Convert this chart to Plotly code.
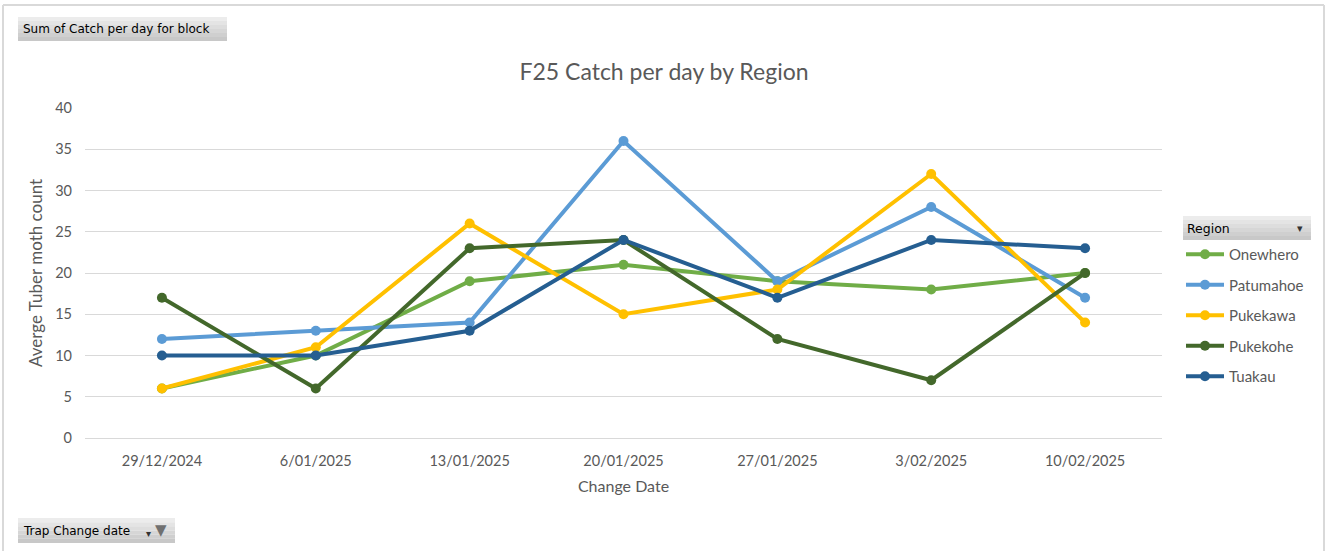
import plotly.graph_objects as go

dates = ["29/12/2024", "6/01/2025", "13/01/2025", "20/01/2025", "27/01/2025", "3/02/2025", "10/02/2025"]
onewhero = [6, 10, 19, 21, 19, 18, 20]
patumahoe = [12, 13, 14, 36, 19, 28, 17]
pukekawa = [6, 11, 26, 15, 18, 32, 14]
pukekohe = [17, 6, 23, 24, 12, 7, 20]
tuakau = [10, 10, 13, 24, 17, 24, 23]
y_ticks = [0, 5, 10, 15, 20, 25, 30, 35, 40]

series = [
    ("Onewhero", onewhero, "#70AD47"),
    ("Patumahoe", patumahoe, "#5B9BD5"),
    ("Pukekawa", pukekawa, "#FFC000"),
    ("Pukekohe", pukekohe, "#43682B"),
    ("Tuakau", tuakau, "#255E91"),
]

FONT = "Lato"
GREY = "#595959"

fig = go.Figure()
for i, (name, vals, col) in enumerate(series):
    fig.add_trace(go.Scatter(
        x=dates, y=vals, name=name, mode="lines+markers",
        line=dict(color=col, width=4),
        marker=dict(color=col, size=10),
        legendgroup=f"g{i}",
    ))

W, H = 1328, 551
L, R, T, B = 85, 1162, 108, 438
pw, ph = R - L, B - T

def px(x):
    return (x - L) / pw

def py(y):
    return (B - y) / ph

shapes = []
# outer chart border
shapes.append(dict(type="line", xref="paper", yref="paper", x0=px(3), x1=px(3), y0=py(5), y1=py(560),
                   line=dict(color="#d9d9d9", width=2)))
shapes.append(dict(type="line", xref="paper", yref="paper", x0=px(3), x1=px(1324), y0=py(5), y1=py(5),
                   line=dict(color="#d9d9d9", width=2)))
shapes.append(dict(type="line", xref="paper", yref="paper", x0=px(1324), x1=px(1324), y0=py(5), y1=py(560),
                   line=dict(color="#d9d9d9", width=2)))

def button(x0, y0, x1, y1):
    n = 6
    out = []
    top = (236, 236, 236)
    bot = (200, 200, 200)
    for k in range(n):
        t = k / (n - 1)
        c = tuple(int(top[j] + (bot[j] - top[j]) * t) for j in range(3))
        ya = y0 + (y1 - y0) * k / n
        yb = y0 + (y1 - y0) * (k + 1) / n
        out.append(dict(type="rect", xref="paper", yref="paper", x0=px(x0), x1=px(x1), y0=py(ya), y1=py(yb),
                        fillcolor="rgb(%d,%d,%d)" % c, line=dict(width=0), layer="below"))
    return out

shapes += button(18, 17, 227, 41)
shapes += button(18, 518, 175, 543)
shapes += button(1183, 216, 1311, 240)

BTN = "DejaVu Sans"
annotations = [
    dict(text="Sum of Catch per day for block", xref="paper", yref="paper", x=px(21), y=py(29),
         xanchor="left", yanchor="middle", showarrow=False, font=dict(family=BTN, size=12, color="#000000")),
    dict(text="Trap Change date", xref="paper", yref="paper", x=px(21), y=py(531),
         xanchor="left", yanchor="middle", showarrow=False, font=dict(family=BTN, size=12, color="#000000")),
    dict(text="▾", xref="paper", yref="paper", x=px(148), y=py(533),
         xanchor="center", yanchor="middle", showarrow=False, font=dict(family="DejaVu Sans", size=10, color="#333333")),
    dict(text="▼", xref="paper", yref="paper", x=px(161), y=py(530),
         xanchor="center", yanchor="middle", showarrow=False, font=dict(family="DejaVu Sans", size=15, color="#707070")),
    dict(text="Region", xref="paper", yref="paper", x=px(1185), y=py(228),
         xanchor="left", yanchor="middle", showarrow=False, font=dict(family=BTN, size=12.5, color="#000000")),
    dict(text="▾", xref="paper", yref="paper", x=px(1300), y=py(228),
         xanchor="center", yanchor="middle", showarrow=False, font=dict(family="DejaVu Sans", size=11, color="#333333")),
]

fig.update_layout(
    width=W, height=H,
    margin=dict(l=L, r=W - R, t=T, b=H - B),
    paper_bgcolor="white", plot_bgcolor="white",
    font=dict(family=FONT, color=GREY, size=14),
    title=dict(text="F25 Catch per day by Region", x=0.5, xref="container", xanchor="center",
               y=1 - 72 / H, yref="container", yanchor="middle",
               font=dict(family=FONT, size=23, color=GREY)),
    xaxis=dict(type="category", range=[-0.5, 6.5], showgrid=False, zeroline=False,
               showline=True, linecolor="#d9d9d9", linewidth=1,
               tickfont=dict(family=FONT, size=14.5, color=GREY), ticks="", ticklabelstandoff=10,
               title=dict(text="Change Date", font=dict(family=FONT, size=16, color=GREY), standoff=12)),
    yaxis=dict(range=[0, 40], tickvals=y_ticks, showgrid=True, gridcolor="#d9d9d9", gridwidth=1,
               zeroline=False, showline=False,
               tickfont=dict(family=FONT, size=14.5, color=GREY), ticks="", ticklabelstandoff=12,
               title=dict(text="Averge Tuber moth count", font=dict(family=FONT, size=17, color=GREY), standoff=8)),
    legend=dict(x=px(1181), y=py(238), xanchor="left", yanchor="top",
                font=dict(family=FONT, size=15, color=GREY),
                tracegroupgap=8, bgcolor="rgba(0,0,0,0)", itemwidth=38),
    showlegend=True,
    shapes=shapes,
    annotations=annotations,
)

fig.write_html("out.html", config={"displayModeBar": False},
               post_script="document.body.style.margin='0';document.body.style.padding='0';")
